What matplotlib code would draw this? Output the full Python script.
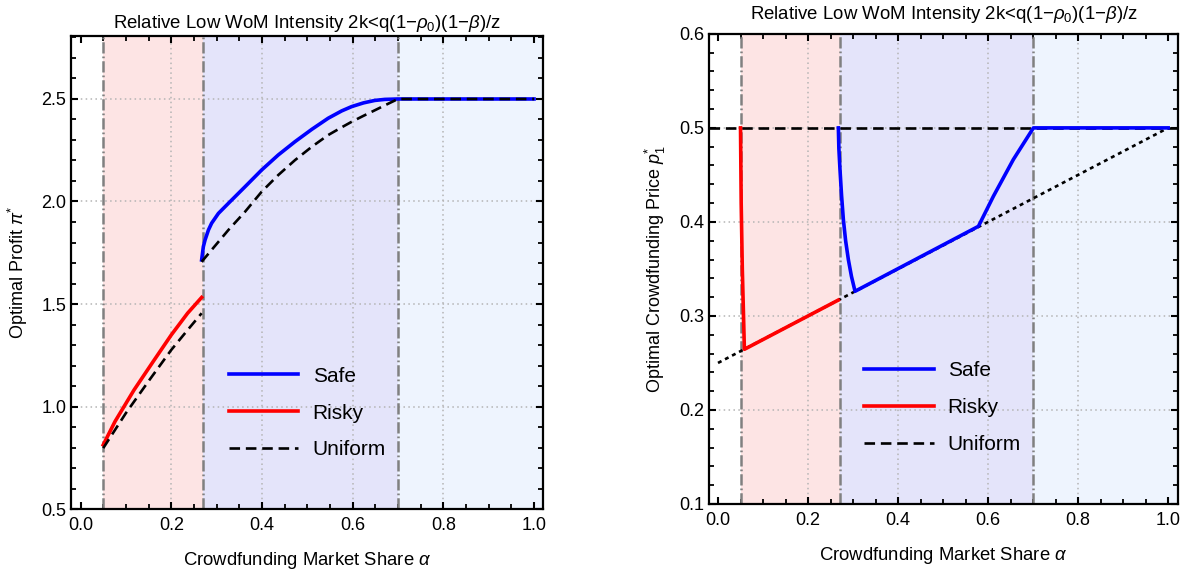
import numpy as np
import matplotlib
matplotlib.use('Agg')
import matplotlib.pyplot as plt
from matplotlib.ticker import MultipleLocator

plt.rcParams['font.family'] = ['Liberation Sans', 'DejaVu Sans']
plt.rcParams['mathtext.fontset'] = 'custom'
plt.rcParams['mathtext.rm'] = 'Liberation Sans'
plt.rcParams['mathtext.it'] = 'Liberation Sans:italic'

# region boundaries (alpha thresholds)
thresholds = [0.05, 0.27, 0.70]
region_colors = ['#fde4e4', '#e4e4fa', '#eef4fe']

# left panel: optimal profit
alpha_risky_l = [0.05, 0.076, 0.118, 0.160, 0.2, 0.236, 0.267]
profit_risky = [0.813, 0.927, 1.081, 1.219, 1.349, 1.455, 1.532]

alpha_safe_l = [0.267, 0.2708, 0.2745, 0.282, 0.289, 0.304, 0.326, 0.3627, 0.3995,
                0.436, 0.473, 0.51, 0.546, 0.576, 0.598, 0.624, 0.649, 0.671, 0.70, 1.0]
profit_safe = [1.715, 1.780, 1.812, 1.861, 1.894, 1.942, 1.991, 2.072, 2.154,
               2.227, 2.292, 2.352, 2.406, 2.442, 2.463, 2.481, 2.493, 2.498, 2.5, 2.5]

alpha_unif_l1 = [0.05, 0.10, 0.152, 0.2, 0.236, 0.267]
profit_unif1 = [0.797, 0.968, 1.13, 1.276, 1.373, 1.455]
alpha_unif_l2 = [0.267, 0.326, 0.3627, 0.3995, 0.436, 0.473, 0.51, 0.546, 0.576,
                 0.598, 0.624, 0.649, 0.671, 0.70, 1.0]
profit_unif2 = [1.706, 1.861, 1.950, 2.048, 2.129, 2.202, 2.267, 2.324, 2.362,
                2.389, 2.418, 2.445, 2.469, 2.5, 2.5]

# right panel: optimal crowdfunding price
alpha_risky_r = [0.05, 0.0515, 0.054, 0.0586, 0.267]
price_risky = [0.5, 0.42, 0.35, 0.2645, 0.3168]

alpha_safe_r = [0.2674, 0.2685, 0.271, 0.2745, 0.2785, 0.2835, 0.2896, 0.2965, 0.3044,
                0.5785, 0.6118, 0.656, 0.7007, 1.0]
price_safe = [0.5, 0.478, 0.4556, 0.428, 0.4024, 0.380, 0.3599, 0.342, 0.3262,
              0.3953, 0.4273, 0.4663, 0.5, 0.5]

unif_price_flat = 0.5
alpha_unif_r = [0.0, 1.0]
price_unif_r = [0.25, 0.5]

title = r'Relative Low WoM Intensity 2k<q(1$-\rho_0$)(1$-\beta$)/z'
xlabel = r'Crowdfunding Market Share $\alpha$'

fig = plt.figure(figsize=(11.92, 5.74), dpi=100)
ax1 = fig.add_axes([0.0596, 0.1132, 0.396, 0.824])
ax2 = fig.add_axes([0.5948, 0.122, 0.3935, 0.819])


def decorate(ax, xlim, ylim, ymaj, ymin, grid_y, title_pad):
    ax.set_xlim(*xlim)
    ax.set_ylim(*ylim)
    edges = thresholds + [xlim[1] + 0.05]
    for i in range(3):
        ax.axvspan(edges[i], edges[i + 1], color=region_colors[i], lw=0, zorder=0)
    ax.xaxis.set_major_locator(MultipleLocator(0.2))
    ax.xaxis.set_minor_locator(MultipleLocator(0.05))
    ax.yaxis.set_major_locator(MultipleLocator(ymaj))
    ax.yaxis.set_minor_locator(MultipleLocator(ymin))
    ax.tick_params(which='both', direction='in', top=True, right=True, labelsize=13)
    ax.tick_params(which='major', length=5, width=1.5)
    ax.tick_params(axis='x', which='major', pad=6)
    ax.tick_params(which='minor', length=3.5, width=1.3)
    for s in ax.spines.values():
        s.set_linewidth(1.6)
    # dotted grid only at interior ticks
    for gx in [0.2, 0.4, 0.6, 0.8]:
        ax.axvline(gx, color='#b4b4b4', ls=(0, (1, 2.2)), lw=1.1, zorder=1)
    for gy in grid_y:
        ax.axhline(gy, color='#b4b4b4', ls=(0, (1, 2.2)), lw=1.1, zorder=1)
    for t in thresholds:
        ax.axvline(t, color='#808080', lw=1.8, ls=(0, (4.5, 1.2, 0.7, 1.2)), zorder=2)
    ax.set_title(title, fontsize=13.4, pad=title_pad)
    ax.set_xlabel(xlabel, fontsize=13.3, labelpad=11)


decorate(ax1, (-0.021, 1.02), (0.5, 2.807), 0.5, 0.1, [1.0, 1.5, 2.0, 2.5], 6)
decorate(ax2, (-0.02, 1.022), (0.1, 0.6), 0.1, 0.02, [0.2, 0.3, 0.4, 0.5], 11)

dash = (0, (4, 2.2))

# left
ax1.plot(alpha_safe_l, profit_safe, color='blue', lw=2.6, zorder=3, label='Safe')
ax1.plot(alpha_risky_l, profit_risky, color='red', lw=2.6, zorder=3, label='Risky')
ax1.plot(alpha_unif_l1, profit_unif1, color='black', lw=1.9, ls=dash, zorder=4, label='Uniform')
ax1.plot(alpha_unif_l2, profit_unif2, color='black', lw=1.9, ls=dash, zorder=4)
ax1.set_ylabel(r'Optimal Profit $\pi^{*}$', fontsize=13, labelpad=8)

# right
ax2.axhline(unif_price_flat, color='black', lw=1.9, ls=dash, zorder=3)
ax2.plot(alpha_unif_r, price_unif_r, color='black', lw=1.9, ls=(0, (1.5, 1.5)), zorder=3)
ax2.plot(alpha_safe_r, price_safe, color='blue', lw=2.6, zorder=4, label='Safe')
ax2.plot(alpha_risky_r, price_risky, color='red', lw=2.6, zorder=4, label='Risky')
ax2.plot([], [], color='black', lw=1.9, ls=dash, label='Uniform')
ax2.set_ylabel(r'Optimal Crowdfunding Price $p_1^{*}$', fontsize=13, labelpad=8)

for ax, (lx, ly) in [(ax1, (0.334, 0.203)), (ax2, (0.330, 0.205))]:
    ax.legend(loc='center left', bbox_to_anchor=(lx, ly), frameon=False, fontsize=15,
              handlelength=3.35, handletextpad=0.68, labelspacing=0.86,
              borderpad=0, borderaxespad=0)

fig.savefig('out.png', dpi=100)
